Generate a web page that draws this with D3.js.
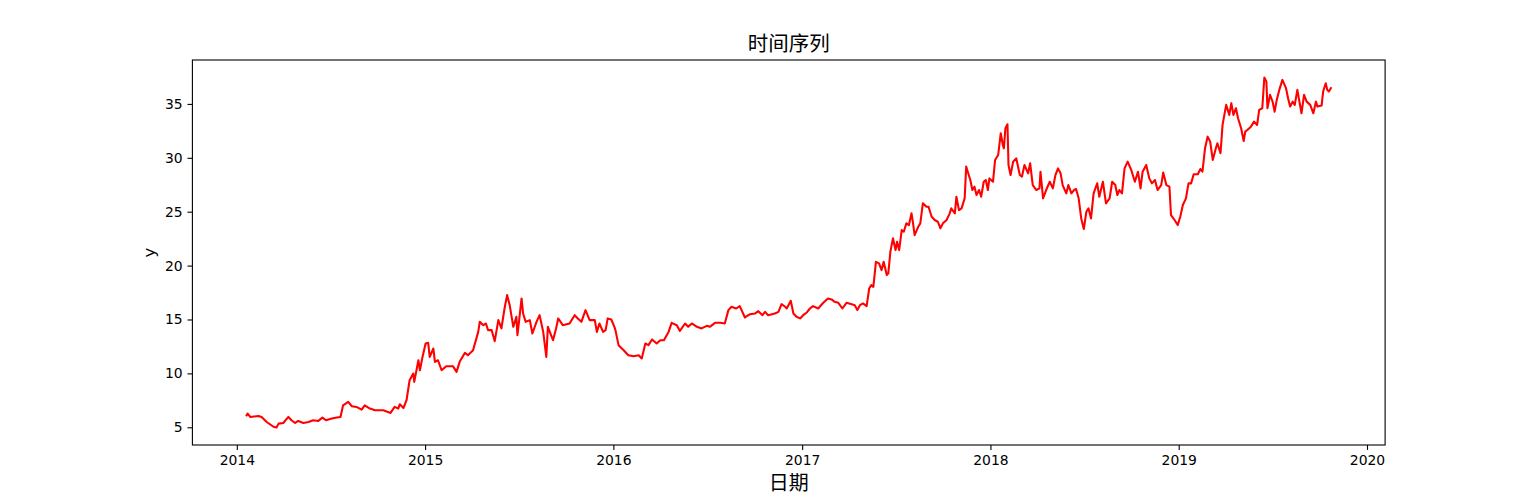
<!DOCTYPE html>
<html>
<head>
<meta charset="utf-8">
<script src="https://cdn.jsdelivr.net/npm/d3@7"></script>
<style>
  html, body { margin: 0; padding: 0; background: #fff; }
  svg { display: block; }
  .tick text { font-family: "DejaVu Sans", sans-serif; font-size: 13.9px; fill: #000; }
</style>
</head>
<body>
<svg id="chart" width="1539" height="500"></svg>
<script>
// ---- Data ----
const chartTitle = "时间序列";
const xLabel = "日期";
const yLabel = "y";

const dates = [
  "2014-01-20","2014-01-22","2014-01-27","2014-02-12","2014-02-18","2014-02-28","2014-03-13","2014-03-19","2014-03-23","2014-04-01",
  "2014-04-11","2014-04-17","2014-04-24","2014-04-30","2014-05-10","2014-05-20","2014-05-29","2014-06-08","2014-06-16","2014-06-23",
  "2014-07-04","2014-07-14","2014-07-21","2014-07-26","2014-08-05","2014-08-12","2014-08-21","2014-08-31","2014-09-06","2014-09-16",
  "2014-09-26","2014-10-12","2014-10-26","2014-11-03","2014-11-10","2014-11-13","2014-11-20","2014-11-26","2014-12-02","2014-12-09",
  "2014-12-11","2014-12-19","2014-12-22","2014-12-27","2015-01-02","2015-01-07","2015-01-10","2015-01-17","2015-01-20","2015-01-26",
  "2015-02-02","2015-02-11","2015-02-24","2015-03-03","2015-03-09","2015-03-19","2015-03-25","2015-04-04","2015-04-14","2015-04-17",
  "2015-04-24","2015-04-29","2015-05-03","2015-05-10","2015-05-16","2015-05-23","2015-05-29","2015-06-04","2015-06-09","2015-06-14",
  "2015-06-21","2015-06-27","2015-06-29","2015-07-02","2015-07-07","2015-07-10","2015-07-15","2015-07-23","2015-07-28","2015-08-05",
  "2015-08-11","2015-08-18","2015-08-24","2015-08-27","2015-09-06","2015-09-12","2015-09-16","2015-09-25","2015-10-08","2015-10-18",
  "2015-10-24","2015-10-31","2015-11-08","2015-11-16","2015-11-26","2015-11-30","2015-12-05","2015-12-12","2015-12-17","2015-12-21",
  "2015-12-28","2016-01-03","2016-01-05","2016-01-11","2016-01-21","2016-01-30","2016-02-09","2016-02-19","2016-02-25","2016-03-03",
  "2016-03-09","2016-03-16","2016-03-25","2016-04-01","2016-04-08","2016-04-17","2016-04-23","2016-05-03","2016-05-09","2016-05-19",
  "2016-05-25","2016-06-01","2016-06-11","2016-06-20","2016-06-30","2016-07-06","2016-07-16","2016-07-26","2016-08-04","2016-08-11",
  "2016-08-17","2016-08-26","2016-09-02","2016-09-12","2016-09-22","2016-10-02","2016-10-08","2016-10-16","2016-10-21","2016-10-27",
  "2016-11-09","2016-11-16","2016-11-22","2016-11-29","2016-12-02","2016-12-10","2016-12-15","2016-12-21","2016-12-28","2017-01-03",
  "2017-01-10","2017-01-16","2017-01-22","2017-02-01","2017-02-11","2017-02-20","2017-02-27","2017-03-05","2017-03-12","2017-03-20",
  "2017-03-28","2017-04-07","2017-04-13","2017-04-18","2017-04-23","2017-04-29","2017-05-06","2017-05-11","2017-05-15","2017-05-19",
  "2017-05-24","2017-05-30","2017-06-04","2017-06-08","2017-06-14","2017-06-17","2017-06-21","2017-06-26","2017-07-01","2017-07-04",
  "2017-07-08","2017-07-13","2017-07-17","2017-07-22","2017-07-27","2017-08-01","2017-08-04","2017-08-07","2017-08-14","2017-08-18",
  "2017-08-23","2017-08-30","2017-09-03","2017-09-09","2017-09-15","2017-09-21","2017-09-26","2017-10-01","2017-10-08","2017-10-14",
  "2017-10-17","2017-10-24","2017-10-27","2017-11-01","2017-11-06","2017-11-12","2017-11-15","2017-11-18","2017-11-23","2017-11-27",
  "2017-12-01","2017-12-05","2017-12-10","2017-12-14","2017-12-19","2017-12-23","2017-12-27","2017-12-30","2018-01-06","2018-01-10",
  "2018-01-16","2018-01-21","2018-01-25","2018-01-27","2018-01-30","2018-02-03","2018-02-05","2018-02-09","2018-02-14","2018-02-20",
  "2018-02-27","2018-03-03","2018-03-08","2018-03-15","2018-03-19","2018-03-24","2018-03-31","2018-04-06","2018-04-08","2018-04-13",
  "2018-04-19","2018-04-26","2018-05-02","2018-05-07","2018-05-12","2018-05-17","2018-05-21","2018-05-28","2018-06-01","2018-06-07",
  "2018-06-12","2018-06-16","2018-06-21","2018-06-26","2018-07-01","2018-07-06","2018-07-10","2018-07-15","2018-07-20","2018-07-27",
  "2018-07-31","2018-08-07","2018-08-13","2018-08-20","2018-08-25","2018-08-31","2018-09-04","2018-09-08","2018-09-13","2018-09-18",
  "2018-09-24","2018-10-01","2018-10-08","2018-10-14","2018-10-19","2018-10-23","2018-10-30","2018-11-05","2018-11-10","2018-11-16",
  "2018-11-21","2018-11-28","2018-12-02","2018-12-08","2018-12-14","2018-12-17","2018-12-24","2018-12-30","2019-01-04","2019-01-09",
  "2019-01-15","2019-01-20","2019-01-25","2019-01-30","2019-02-07","2019-02-12","2019-02-16","2019-02-21","2019-02-26","2019-03-03",
  "2019-03-08","2019-03-14","2019-03-17","2019-03-23","2019-03-27","2019-04-03","2019-04-09","2019-04-13","2019-04-17","2019-04-22",
  "2019-04-26","2019-05-02","2019-05-07","2019-05-10","2019-05-14","2019-05-21","2019-05-27","2019-06-02","2019-06-06","2019-06-12",
  "2019-06-16","2019-06-20","2019-06-22","2019-06-27","2019-07-02","2019-07-06","2019-07-10","2019-07-15","2019-07-21","2019-07-28",
  "2019-08-01","2019-08-05","2019-08-10","2019-08-14","2019-08-19","2019-08-23","2019-08-27","2019-09-01","2019-09-06","2019-09-13",
  "2019-09-19","2019-09-24","2019-09-27","2019-10-05","2019-10-08","2019-10-13","2019-10-16","2019-10-19","2019-10-23"
];

const values = [
  6.11,6.27,5.96,6.05,5.96,5.49,5.05,4.98,5.34,5.40,
  5.96,5.65,5.40,5.59,5.40,5.49,5.65,5.59,5.90,5.65,
  5.81,5.90,5.96,7.04,7.35,6.95,6.89,6.64,7.04,6.74,
  6.58,6.58,6.33,6.89,6.74,7.14,6.79,7.51,9.37,9.99,
  9.21,11.22,10.29,11.53,12.77,12.83,11.53,12.31,11.07,11.22,
  10.29,10.67,10.67,10.14,11.07,11.90,11.69,12.15,13.85,14.78,
  14.47,14.63,14.01,14.01,12.99,14.94,14.17,16.02,17.26,16.33,
  14.32,15.25,13.54,14.78,16.95,15.56,14.78,14.94,13.70,14.78,
  15.40,13.85,11.53,14.32,13.08,14.17,15.10,14.47,14.63,15.40,
  15.10,14.78,15.87,14.94,14.94,13.85,14.63,13.85,14.01,15.10,
  15.00,14.32,14.01,12.62,12.15,11.69,11.59,11.69,11.38,12.77,
  12.62,13.15,12.77,13.08,13.08,13.85,14.69,14.47,13.94,14.63,
  14.32,14.63,14.32,14.17,14.41,14.32,14.69,14.69,14.63,15.87,
  16.18,16.02,16.24,15.19,15.49,15.56,15.77,15.40,15.71,15.40,
  15.56,15.71,16.42,16.18,16.02,16.73,15.56,15.25,15.10,15.40,
  15.65,16.02,16.24,16.02,16.55,16.95,16.86,16.64,16.55,16.02,
  16.55,16.42,16.33,15.87,16.33,16.49,16.24,17.88,18.19,18.03,
  20.35,20.20,19.58,20.35,19.12,19.28,21.28,22.53,21.44,22.21,
  21.44,23.30,23.14,23.92,23.76,24.85,23.92,22.83,23.60,23.92,
  25.78,25.46,25.46,24.53,24.23,24.07,23.46,23.92,24.23,24.85,
  25.31,24.85,26.39,25.15,25.31,26.24,29.18,28.71,27.94,27.01,
  27.32,26.55,27.01,26.39,27.78,27.94,27.01,28.09,27.78,29.80,
  30.26,32.28,31.19,30.88,32.74,33.11,29.33,28.40,29.64,29.95,
  28.40,28.25,29.33,28.56,29.49,27.47,27.01,27.16,28.71,26.24,
  27.01,27.78,27.16,28.40,29.02,28.56,27.47,26.70,27.47,26.70,
  27.01,27.10,26.24,24.38,23.39,25.00,25.31,24.38,26.70,27.63,
  26.39,27.78,25.78,26.24,27.78,27.47,26.55,27.01,26.70,29.02,
  29.64,28.87,27.78,28.71,27.16,28.71,29.33,28.09,27.63,27.94,
  27.01,27.47,28.64,27.47,27.32,24.69,24.23,23.76,24.53,25.62,
  26.24,27.63,27.63,28.47,28.47,28.96,28.71,30.88,31.96,31.50,
  29.80,30.88,31.35,30.42,33.05,34.91,33.98,35.07,33.98,34.60,
  33.67,32.74,31.56,32.43,32.58,32.89,33.36,33.05,34.45,34.60,
  37.45,37.07,34.60,35.84,35.21,34.28,35.37,36.30,37.23,36.46,
  35.53,34.75,35.21,34.91,36.30,35.21,34.13,35.84,35.21,34.91,
  34.13,35.21,34.75,34.85,36.15,36.92,36.30,36.15,36.46
];

const yTicks = [5, 10, 15, 20, 25, 30, 35];
const xTickYears = ["2014","2015","2016","2017","2018","2019","2020"];

// ---- Layout ----
const W = 1539, H = 500;
const margin = { left: 192.4, right: 1385.1, top: 60, bottom: 445 };

const parseDate = d3.timeParse("%Y-%m-%d");
const parseYear = d3.timeParse("%Y");
const data = dates.map((d, i) => ({ date: parseDate(d), value: values[i] }));

const xExt = d3.extent(data, d => d.date.getTime());
const xPad = (xExt[1] - xExt[0]) * 0.05;
const yExt = d3.extent(data, d => d.value);
const yPad = (yExt[1] - yExt[0]) * 0.05;

const x = d3.scaleTime()
  .domain([new Date(xExt[0] - xPad), new Date(xExt[1] + xPad)])
  .range([margin.left, margin.right]);
const y = d3.scaleLinear()
  .domain([yExt[0] - yPad, yExt[1] + yPad])
  .range([margin.bottom, margin.top]);

const svg = d3.select("#chart");

// line (clipped to axes)
svg.append("defs").append("clipPath").attr("id", "clip")
  .append("rect")
  .attr("x", margin.left).attr("y", margin.top)
  .attr("width", margin.right - margin.left).attr("height", margin.bottom - margin.top);

const line = d3.line().x(d => x(d.date)).y(d => y(d.value));
svg.append("path")
  .datum(data)
  .attr("clip-path", "url(#clip)")
  .attr("fill", "none")
  .attr("stroke", "#ff0000")
  .attr("stroke-width", 2.08)
  .attr("stroke-linejoin", "round")
  .attr("stroke-linecap", "square")
  .attr("d", line);

// axes
const xAxis = d3.axisBottom(x)
  .tickValues(xTickYears.map(parseYear))
  .tickFormat(d3.timeFormat("%Y"))
  .tickSize(4.9).tickPadding(4.9).tickSizeOuter(0);
const gx = svg.append("g").attr("transform", `translate(0,${margin.bottom})`).call(xAxis);
gx.select(".domain").remove();
gx.selectAll(".tick line").attr("stroke", "#000").attr("stroke-width", 1.1);
gx.selectAll(".tick text").attr("dy", "0.71em");

const yAxis = d3.axisLeft(y)
  .tickValues(yTicks)
  .tickSize(4.9).tickPadding(4.9).tickSizeOuter(0);
const gy = svg.append("g").attr("transform", `translate(${margin.left},0)`).call(yAxis);
gy.select(".domain").remove();
gy.selectAll(".tick line").attr("stroke", "#000").attr("stroke-width", 1.1);

// frame
svg.append("rect")
  .attr("x", margin.left).attr("y", margin.top)
  .attr("width", margin.right - margin.left).attr("height", margin.bottom - margin.top)
  .attr("fill", "none").attr("stroke", "#000").attr("stroke-width", 1.1);

// title and labels
const cx = (margin.left + margin.right) / 2;
svg.append("text")
  .attr("x", cx).attr("y", margin.top - 9)
  .attr("text-anchor", "middle")
  .style("font-family", '"Noto Sans CJK SC", sans-serif')
  .style("font-size", "20.5px")
  .text(chartTitle);

svg.append("text")
  .attr("x", cx).attr("y", 490)
  .attr("text-anchor", "middle")
  .style("font-family", '"Noto Sans CJK SC", sans-serif')
  .style("font-size", "20px")
  .text(xLabel);

svg.append("text")
  .attr("transform", `translate(155,${(margin.top + margin.bottom) / 2}) rotate(-90)`)
  .attr("text-anchor", "middle")
  .style("font-family", '"DejaVu Sans", sans-serif')
  .style("font-size", "16.7px")
  .text(yLabel);
</script>
</body>
</html>
